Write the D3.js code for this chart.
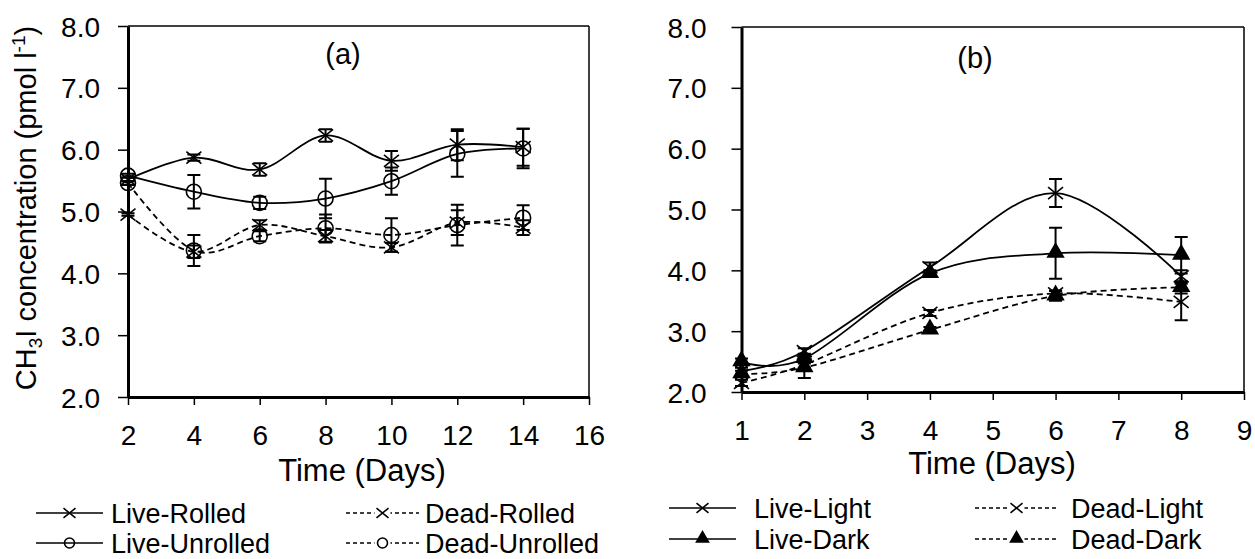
<!DOCTYPE html>
<html lang="en">

<head>
    <meta charset="UTF-8">
    <style type="text/css">
        body { margin: 0; background: #fff; }
        svg text { font-family: "Liberation Sans", Arial, sans-serif; fill: #000; }
    </style>
</head>

<body>
    <div id="chart"></div>
    <script src="https://cdn.jsdelivr.net/npm/d3@7"></script>
    <script type="text/javascript">

        // panel (a) data
        var daysA = [2, 4, 6, 8, 10, 12, 14];
        var liveRolled = [5.52, 5.87, 5.68, 6.23, 5.82, 6.08, 6.04];
        var liveRolledErr = [0.03, 0.05, 0.1, 0.1, 0.16, 0.25, 0.3];
        var liveUnrolled = [5.58, 5.32, 5.14, 5.21, 5.49, 5.93, 6.02];
        var liveUnrolledErr = [0.03, 0.27, 0.1, 0.32, 0.22, 0.37, 0.32];
        var deadRolled = [4.95, 4.35, 4.78, 4.6, 4.42, 4.82, 4.74];
        var deadRolledErr = [0.02, 0.1, 0.08, 0.1, 0.07, 0.2, 0.12];
        var deadUnrolled = [5.46, 4.37, 4.6, 4.73, 4.62, 4.78, 4.9];
        var deadUnrolledErr = [0.03, 0.25, 0.08, 0.22, 0.27, 0.33, 0.2];

        // panel (b) data
        var daysB = [1, 2, 4, 6, 8];
        var liveLight = [2.35, 2.67, 4.05, 5.27, 3.9];
        var liveLightErr = [0.05, 0.05, 0.08, 0.23, 0.1];
        var liveDark = [2.5, 2.55, 3.95, 4.28, 4.25];
        var liveDarkErr = [0.05, 0.08, 0.05, 0.42, 0.3];
        var deadLight = [2.15, 2.45, 3.3, 3.62, 3.48];
        var deadLightErr = [0.05, 0.05, 0.05, 0.05, 0.3];
        var deadDark = [2.3, 2.4, 3.02, 3.58, 3.72];
        var deadDarkErr = [0.05, 0.17, 0.05, 0.08, 0.1];

        var yTicks = [2, 3, 4, 5, 6, 7, 8];
        var xTicksA = [2, 4, 6, 8, 10, 12, 14, 16];
        var xTicksB = [1, 2, 3, 4, 5, 6, 7, 8, 9];

        var width = 1255, height = 559;

        var svg = d3.select("#chart")
            .append("svg")
            .attr("width", width)
            .attr("height", height);

        var panels = [
            {
                label: "(a)", labelX: 343, labelY: 64,
                xDomain: [2, 16], xRange: [128, 589], yRange: [397, 26],
                xTicks: xTicksA, yPad: 18, titleX: 362, titleY: 481,
                series: [
                    { name: "Live-Rolled", x: daysA, y: liveRolled, err: liveRolledErr, marker: "cross", dashed: false },
                    { name: "Live-Unrolled", x: daysA, y: liveUnrolled, err: liveUnrolledErr, marker: "circle", dashed: false },
                    { name: "Dead-Rolled", x: daysA, y: deadRolled, err: deadRolledErr, marker: "cross", dashed: true },
                    { name: "Dead-Unrolled", x: daysA, y: deadUnrolled, err: deadUnrolledErr, marker: "circle", dashed: true }
                ],
                legend: { col1: 36, col2: 346, row1: 513, row2: 543, sampleW: [67, 73], textGap: [8, 6] }
            },
            {
                label: "(b)", labelX: 975, labelY: 68,
                xDomain: [1, 9], xRange: [741.5, 1244], yRange: [392, 27],
                xTicks: xTicksB, yPad: 25, titleX: 992, titleY: 474,
                series: [
                    { name: "Live-Light", x: daysB, y: liveLight, err: liveLightErr, marker: "cross", dashed: false },
                    { name: "Live-Dark", x: daysB, y: liveDark, err: liveDarkErr, marker: "triangle", dashed: false },
                    { name: "Dead-Light", x: daysB, y: deadLight, err: deadLightErr, marker: "cross", dashed: true },
                    { name: "Dead-Dark", x: daysB, y: deadDark, err: deadDarkErr, marker: "triangle", dashed: true }
                ],
                legend: { col1: 669, col2: 975, row1: 508, row2: 539, sampleW: [67, 83], textGap: [18, 13] }
            }
        ];

        function drawMarker(g, type, cx, cy, s) {
            if (type === "cross") {
                g.append("path")
                    .attr("d", "M" + (cx - s) + "," + (cy - s * 0.8) + "L" + (cx + s) + "," + (cy + s * 0.8) +
                        "M" + (cx - s) + "," + (cy + s * 0.8) + "L" + (cx + s) + "," + (cy - s * 0.8))
                    .attr("stroke", "#000")
                    .attr("stroke-width", 1.6)
                    .attr("fill", "none");
            } else if (type === "circle") {
                g.append("circle")
                    .attr("cx", cx).attr("cy", cy).attr("r", s)
                    .attr("stroke", "#000")
                    .attr("stroke-width", 1.6)
                    .attr("fill", "none");
            } else {
                g.append("path")
                    .attr("d", d3.symbol().type(d3.symbolTriangle).size(s * s * 2.6)())
                    .attr("transform", "translate(" + cx + "," + (cy - s * 0.1) + ")")
                    .attr("fill", "#000");
            }
        }

        panels.forEach(function (p) {
            var x = d3.scaleLinear().domain(p.xDomain).range(p.xRange);
            var y = d3.scaleLinear().domain([2, 8]).range(p.yRange);
            var g = svg.append("g");

            // top and right frame
            g.append("line")
                .attr("x1", p.xRange[0]).attr("x2", p.xRange[1])
                .attr("y1", p.yRange[1]).attr("y2", p.yRange[1])
                .attr("stroke", "#000").attr("stroke-width", 1.3);
            g.append("line")
                .attr("x1", p.xRange[1]).attr("x2", p.xRange[1])
                .attr("y1", p.yRange[1]).attr("y2", p.yRange[0])
                .attr("stroke", "#000").attr("stroke-width", 1.5);

            var xAxis = g.append("g")
                .attr("transform", "translate(0," + p.yRange[0] + ")")
                .call(d3.axisBottom(x).tickValues(p.xTicks).tickSize(8).tickSizeOuter(0).tickPadding(20));
            var yAxis = g.append("g")
                .attr("transform", "translate(" + p.xRange[0] + ",0)")
                .call(d3.axisLeft(y).tickValues(yTicks).tickFormat(d3.format(".1f"))
                    .tickSize(10).tickSizeOuter(0).tickPadding(p.yPad));

            [xAxis, yAxis].forEach(function (a) {
                a.attr("font-family", null).attr("font-size", null);
                a.select(".domain").attr("stroke-width", 3);
                a.selectAll(".tick line").attr("stroke-width", 1.5);
                a.selectAll(".tick text").style("font-size", "28px");
            });
            yAxis.selectAll(".tick text").attr("dy", "0.36em");

            // error bars
            p.series.forEach(function (s) {
                var eg = g.append("g");
                s.x.forEach(function (d, i) {
                    var cx = x(d), top = y(s.y[i] + s.err[i]), bot = y(s.y[i] - s.err[i]);
                    eg.append("path")
                        .attr("d", "M" + cx + "," + top + "V" + bot +
                            "M" + (cx - 6.5) + "," + top + "H" + (cx + 6.5) +
                            "M" + (cx - 6.5) + "," + bot + "H" + (cx + 6.5))
                        .attr("stroke", "#000").attr("stroke-width", 2).attr("fill", "none");
                });
            });

            // smoothed lines
            var line = d3.line()
                .x(function (d) { return x(d[0]); })
                .y(function (d) { return y(d[1]); })
                .curve(d3.curveCatmullRom.alpha(0));

            p.series.forEach(function (s) {
                g.append("path")
                    .datum(d3.zip(s.x, s.y))
                    .attr("d", line)
                    .attr("fill", "none")
                    .attr("stroke", "#000")
                    .attr("stroke-width", 1.8)
                    .attr("stroke-dasharray", s.dashed ? "6,4" : null);
            });

            // markers
            p.series.forEach(function (s) {
                var mg = g.append("g");
                s.x.forEach(function (d, i) {
                    drawMarker(mg, s.marker, x(d), y(s.y[i]), s.marker === "circle" ? 7.5 : 7.5);
                });
            });

            // panel label
            g.append("text")
                .attr("x", p.labelX).attr("y", p.labelY)
                .style("text-anchor", "middle")
                .style("font-size", "29px")
                .text(p.label);

            // x title
            g.append("text")
                .attr("x", p.titleX).attr("y", p.titleY)
                .style("text-anchor", "middle")
                .style("font-size", "31px")
                .text("Time (Days)");

            // legend
            var L = p.legend;
            p.series.forEach(function (s, i) {
                var col = i < 2 ? 0 : 1;
                var lx = col === 0 ? L.col1 : L.col2;
                var ly = i % 2 === 0 ? L.row1 : L.row2;
                var w = L.sampleW[col];
                var lg = svg.append("g");
                lg.append("line")
                    .attr("x1", lx).attr("x2", lx + w)
                    .attr("y1", ly).attr("y2", ly)
                    .attr("stroke", "#000")
                    .attr("stroke-width", 1.5)
                    .attr("stroke-dasharray", s.dashed ? "4,3" : null);
                if (s.dashed) {
                    lg.append("rect")
                        .attr("x", lx + w / 2 - 8).attr("y", ly - 8)
                        .attr("width", 16).attr("height", 16)
                        .attr("fill", "#fff");
                }
                drawMarker(lg, s.marker, lx + w / 2, ly, s.marker === "circle" ? 5 : 6);
                lg.append("text")
                    .attr("x", lx + w + L.textGap[col]).attr("y", ly + 9.5)
                    .style("font-size", "27px")
                    .text(s.name);
            });
        });

        // y title
        var yt = svg.append("text")
            .attr("transform", "translate(36,208) rotate(-90)")
            .style("text-anchor", "middle")
            .style("font-size", "29px");
        yt.append("tspan").text("CH");
        yt.append("tspan").attr("dy", 6).style("font-size", "19px").text("3");
        yt.append("tspan").attr("dy", -6).text("I concentration (pmol l");
        yt.append("tspan").attr("dy", -11).style("font-size", "19px").text("-1");
        yt.append("tspan").attr("dy", 11).text(")");

    </script>
</body>

</html>
